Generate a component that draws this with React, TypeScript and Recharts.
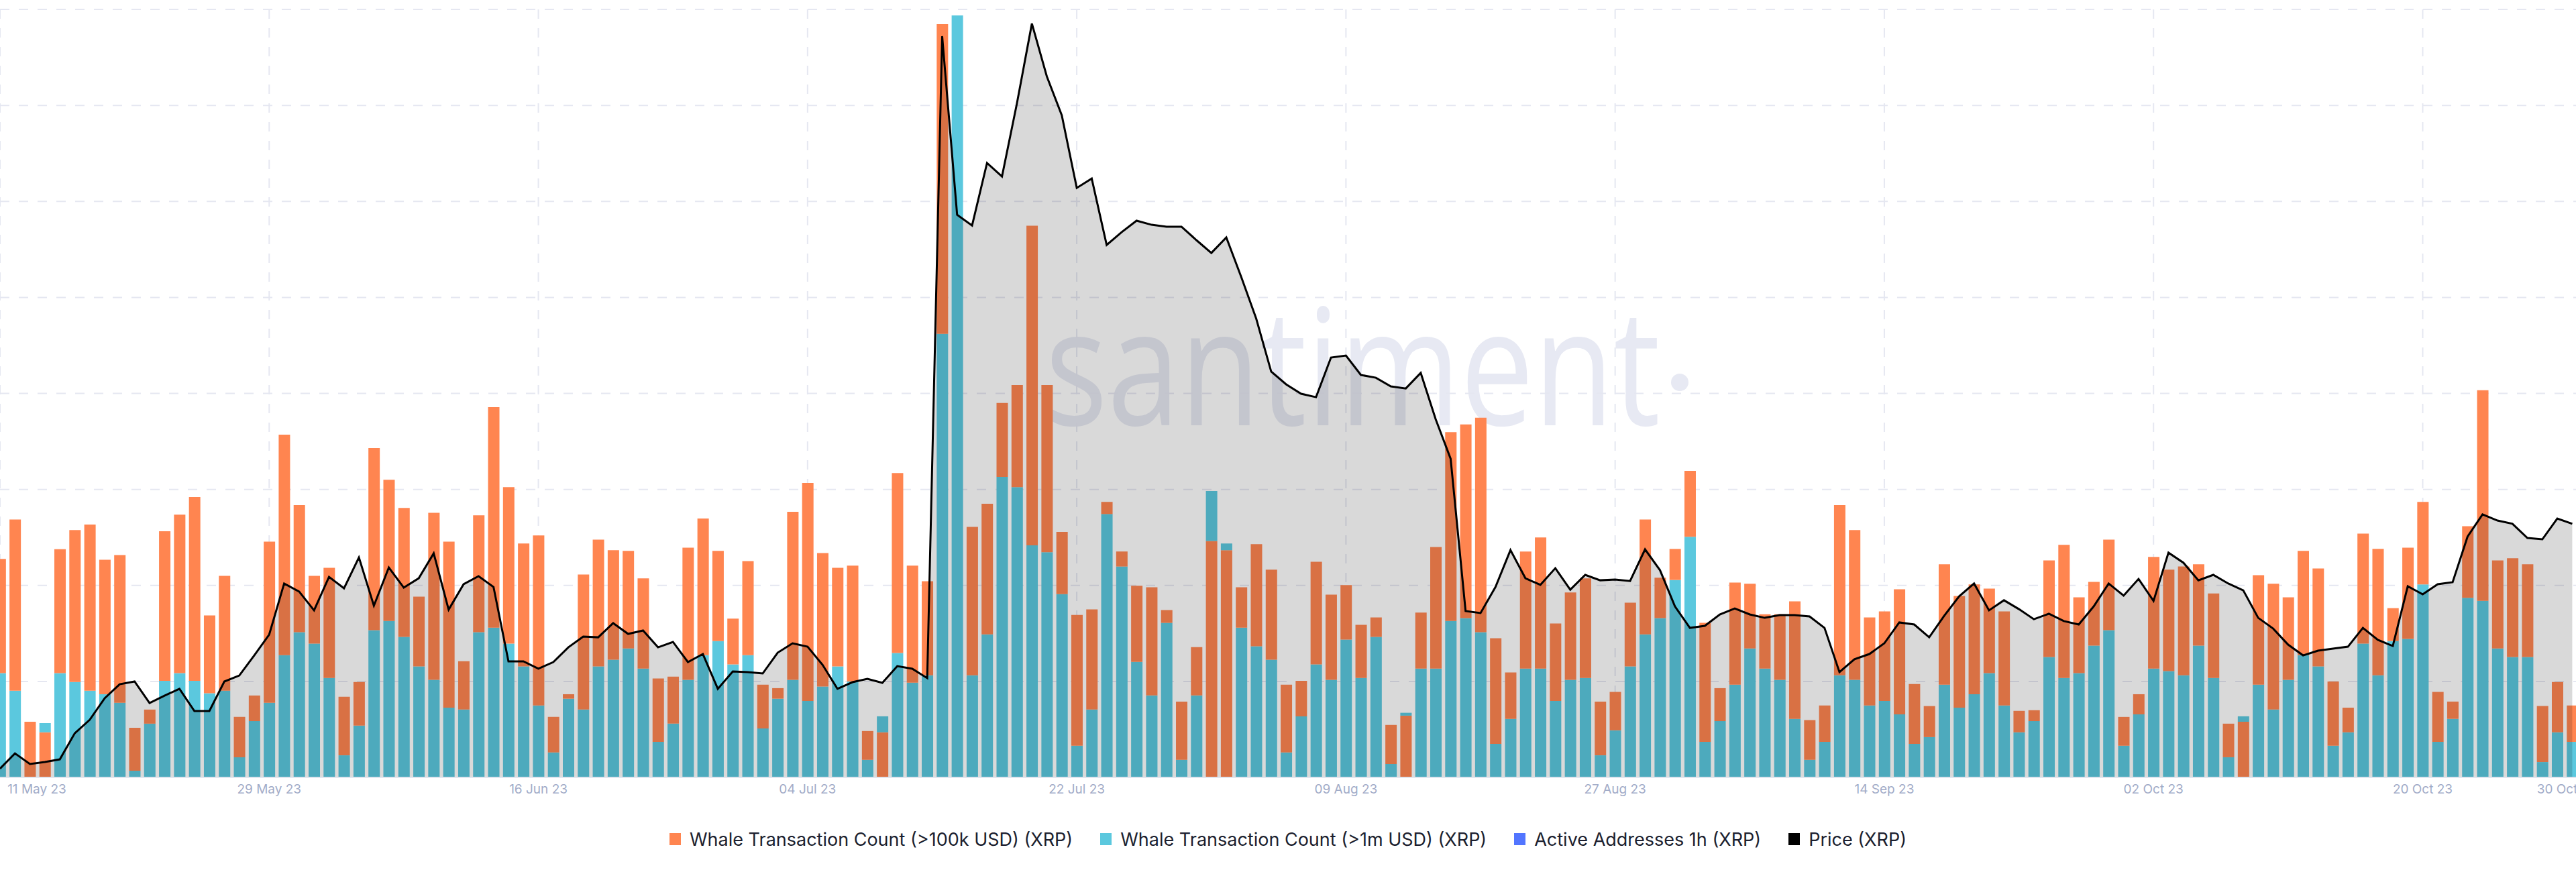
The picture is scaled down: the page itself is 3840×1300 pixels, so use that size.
import { ComposedChart, Bar, Area, XAxis, YAxis, CartesianGrid, Legend, Cell } from "recharts";

// day index 0 = 11 May 23, one bar per day up to 30 Oct 23
const tickDays = [0, 18, 36, 54, 72, 90, 108, 126, 144, 162, 172];
const tickLabels = [
  "11 May 23", "29 May 23", "16 Jun 23", "04 Jul 23", "22 Jul 23", "09 Aug 23",
  "27 Aug 23", "14 Sep 23", "02 Oct 23", "20 Oct 23", "30 Oct 23",
];
const gridDays = [0, 18, 36, 54, 72, 90, 108, 126, 144, 162];

const whale100k = [
  683, 806, 174, 141, 713, 773, 790, 680, 695, 155,
  212, 769, 821, 876, 506, 630, 189, 256, 737, 1071,
  851, 630, 655, 252, 298, 1029, 930, 842, 565, 827,
  737, 363, 819, 1157, 907, 731, 756, 189, 260, 634,
  743, 710, 708, 622, 309, 315, 718, 809, 708, 496,
  676, 290, 279, 830, 920, 701, 655, 662, 145, 141,
  951, 662, 613, 2354, 0, 783, 855, 1170, 1226, 1724,
  1226, 767, 508, 525, 861, 706, 599, 594, 523, 237,
  407, 739, 710, 594, 729, 649, 290, 302, 674, 571,
  601, 477, 500, 164, 193, 515, 720, 1079, 1103, 1124,
  435, 328, 706, 750, 481, 578, 622, 237, 267, 546,
  806, 624, 714, 958, 483, 279, 609, 605, 510, 510,
  550, 179, 225, 851, 773, 500, 519, 588, 292, 223,
  666, 567, 603, 590, 519, 208, 210, 678, 727, 563,
  611, 743, 189, 260, 689, 649, 659, 666, 575, 168,
  174, 632, 605, 563, 708, 653, 300, 218, 762, 714,
  529, 718, 861, 267, 237, 785, 1210, 678, 685, 666,
  223, 298, 225,
];

const whale1m = [
  326, 271, 0, 170, 326, 298, 271, 260, 233, 21,
  168, 302, 326, 302, 263, 271, 63, 176, 233, 382,
  454, 418, 311, 69, 162, 460, 489, 439, 347, 305,
  218, 212, 454, 468, 418, 347, 225, 78, 246, 212,
  347, 368, 403, 340, 111, 168, 305, 382, 426, 353,
  382, 153, 246, 305, 239, 284, 347, 300, 55, 191,
  389, 296, 319, 1386, 2381, 319, 447, 939, 907, 725,
  704, 573, 99, 212, 823, 659, 361, 256, 483, 55,
  256, 895, 731, 468, 410, 368, 78, 191, 353, 305,
  431, 311, 439, 42, 202, 340, 340, 489, 498, 454,
  105, 183, 340, 340, 239, 305, 311, 69, 147, 347,
  447, 498, 617, 752, 111, 176, 290, 403, 340, 305,
  183, 55, 111, 319, 305, 225, 239, 197, 105, 126,
  290, 218, 260, 326, 225, 141, 176, 376, 311, 326,
  412, 460, 99, 197, 340, 332, 319, 412, 311, 63,
  191, 290, 212, 305, 382, 347, 99, 141, 418, 319,
  426, 433, 603, 111, 183, 561, 552, 403, 376, 376,
  48, 141, 111,
];

const price = [
  0.4051, 0.4141, 0.4079, 0.409, 0.4106, 0.4259, 0.4338, 0.4464, 0.4546, 0.4562,
  0.4436, 0.4479, 0.4519, 0.4389, 0.4389, 0.4562, 0.4597, 0.4715, 0.4837, 0.5136,
  0.5089, 0.4979, 0.5175, 0.5108, 0.5289, 0.5006, 0.523, 0.5112, 0.5167, 0.5313,
  0.4983, 0.5132, 0.5179, 0.5116, 0.468, 0.468, 0.4637, 0.4676, 0.4762, 0.4825,
  0.4821, 0.4904, 0.4841, 0.4861, 0.4762, 0.4794, 0.4676, 0.4723, 0.4519, 0.4621,
  0.4617, 0.4609, 0.4731, 0.4786, 0.4766, 0.466, 0.4519, 0.4558, 0.4578, 0.4554,
  0.4652, 0.4637, 0.4582, 0.8343, 0.7297, 0.7234, 0.76, 0.7521, 0.795, 0.8417,
  0.8107, 0.7879, 0.7454, 0.7509, 0.712, 0.7195, 0.7262, 0.7238, 0.7227, 0.7227,
  0.7148, 0.7073, 0.7164, 0.6932, 0.6688, 0.6378, 0.6303, 0.6248, 0.6228, 0.646,
  0.6472, 0.6358, 0.6342, 0.6291, 0.6279, 0.637, 0.6099, 0.5867, 0.4975, 0.4963,
  0.5116, 0.5332, 0.5167, 0.5128, 0.5226, 0.51, 0.5187, 0.5155, 0.5159, 0.5151,
  0.5336, 0.5214, 0.5002, 0.4876, 0.4888, 0.4955, 0.499, 0.4955, 0.4935, 0.4951,
  0.4951, 0.4943, 0.4876, 0.4617, 0.4692, 0.4723, 0.4786, 0.4908, 0.4896, 0.4821,
  0.4947, 0.5061, 0.5136, 0.4979, 0.5038, 0.4986, 0.4927, 0.4959, 0.4916, 0.4896,
  0.5002, 0.5136, 0.5065, 0.5163, 0.5034, 0.5317, 0.5258, 0.5155, 0.5187, 0.5136,
  0.5096, 0.4935, 0.4872, 0.4778, 0.4715, 0.4743, 0.4755, 0.4766, 0.4876, 0.4806,
  0.477, 0.512, 0.5073, 0.5132, 0.5144, 0.5411, 0.5541, 0.5505, 0.5486, 0.5403,
  0.5395, 0.5517, 0.5486,
];

const ORANGE = "#FF8550";
const CYAN = "#5BC8DE";
const BLUE = "#5275FF";

const legendItems = [
  { label: "Whale Transaction Count (>100k USD) (XRP)", color: ORANGE },
  { label: "Whale Transaction Count (>1m USD) (XRP)", color: CYAN },
  { label: "Active Addresses 1h (XRP)", color: BLUE },
  { label: "Price (XRP)", color: "#000" },
];

const countTicks = [0, 300, 600, 900, 1200, 1500, 1800, 2100, 2400];
const PRICE_MIN = 0.4;

// the two whale bars overlap: the smaller one sits in front, so stack min + (max - min)
const data = price.map((p, i) => {
  const o = whale100k[i];
  const c = whale1m[i];
  const orangeLow = o <= c;
  return {
    day: i,
    lo: Math.min(o, c),
    rest: Math.abs(o - c),
    loColor: orangeLow ? ORANGE : CYAN,
    hiColor: orangeLow ? CYAN : ORANGE,
    price: p,
  };
});

function DateTick(props: any) {
  const { x, y, payload } = props;
  const idx = tickDays.indexOf(payload.value);
  let tx = x;
  if (payload.value === 0) tx = x + 55;
  if (payload.value === 172) tx = x - 8;
  return (
    <text x={tx} y={y} dy={16} textAnchor="middle" fill="#A2ACC8" fontSize={19} fontFamily="Inter, sans-serif">
      {tickLabels[idx]}
    </text>
  );
}

function LegendBox() {
  return (
    <div
      style={{
        height: 101,
        display: "flex",
        justifyContent: "center",
        alignItems: "center",
        paddingTop: 3,
        boxSizing: "border-box",
        fontFamily: "Inter, sans-serif",
        fontSize: 27,
        color: "#1C1F2F",
      }}
    >
      {legendItems.map((it, i) => (
        <div key={i} style={{ display: "flex", alignItems: "center", marginLeft: i ? 41 : 0 }}>
          <span style={{ display: "inline-block", width: 17, height: 18, background: it.color, marginRight: 13 }} />
          {it.label}
        </div>
      ))}
    </div>
  );
}

export default function App() {
  return (
    <div style={{ position: "absolute", left: 0, top: 0, width: 3840, height: 1300, background: "#fff", overflow: "hidden" }}>
      <svg width={3840} height={1300} style={{ position: "absolute", left: 0, top: 0 }}>
        <text
          x={1558}
          y={634}
          fontSize={242}
          fontFamily="'Open Sans', sans-serif"
          fill="#E7E9F3"
          textLength={917}
          lengthAdjust="spacingAndGlyphs"
        >
          santiment
        </text>
        <circle cx={2504} cy={570} r={13} fill="#E7E9F3" />
      </svg>
      <ComposedChart
        width={3840}
        height={1300}
        data={data}
        margin={{ top: 14, right: 0, bottom: 0, left: 0 }}
        style={{ position: "relative" }}
      >
        <CartesianGrid stroke="#E5E7F1" strokeWidth={2} strokeDasharray="14 14" verticalValues={gridDays} />
        <XAxis
          dataKey="day"
          type="number"
          domain={[0, 172.25]}
          ticks={tickDays}
          interval={0}
          height={40}
          tickLine={false}
          axisLine={{ stroke: "#E1E6EF", strokeWidth: 2 }}
          tick={<DateTick />}
        />
        <YAxis hide domain={[0, 2400]} ticks={countTicks} />
        <YAxis yAxisId="price" hide domain={[PRICE_MIN, 0.85]} allowDataOverflow />
        <Bar dataKey="lo" stackId="w" barSize={17} isAnimationActive={false}>
          {data.map((d, i) => (
            <Cell key={i} fill={d.loColor} />
          ))}
        </Bar>
        <Bar dataKey="rest" stackId="w" barSize={17} isAnimationActive={false}>
          {data.map((d, i) => (
            <Cell key={i} fill={d.hiColor} />
          ))}
        </Bar>
        <Area
          yAxisId="price"
          type="linear"
          dataKey="price"
          stroke="#000"
          strokeWidth={3}
          fill="#000"
          fillOpacity={0.15}
          baseValue={PRICE_MIN}
          dot={false}
          activeDot={false}
          isAnimationActive={false}
          zIndex={350}
        />
        <Legend verticalAlign="bottom" height={101} content={<LegendBox />} />
      </ComposedChart>
    </div>
  );
}
